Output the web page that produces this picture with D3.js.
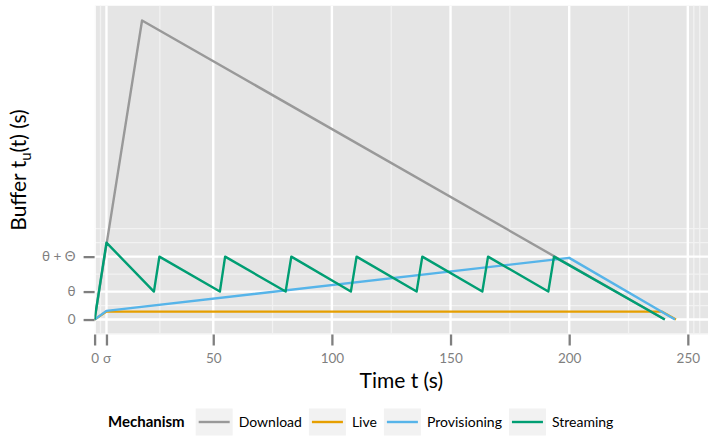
<!DOCTYPE html>
<html>
<head>
<meta charset="utf-8">
<script src="https://cdn.jsdelivr.net/npm/d3@7"></script>
<style>
  body { margin: 0; background: #fff; }
  svg { display: block; }
  text { font-family: Lato, "Noto Sans", sans-serif; }
</style>
</head>
<body>
<svg id="chart" width="708" height="437"></svg>
<script>
// Buffer level over time for each delivery mechanism
const mechanisms = ["Download", "Live", "Provisioning", "Streaming"];
const mechanismColors = ["#999999", "#E69F00", "#56B4E9", "#009E73"];

const sigma = 5;     // start-up delay
const theta = 20;    // low-water mark
const Theta = 25;    // refill amount

const downloadTime   = [0, 20, 240.3];
const downloadBuffer = [0, 213.9, 0];

const liveTime   = [0, 5, 239, 245];
const liveBuffer = [0, 5.7, 5.7, 0];

const provisioningTime   = [0, 5, 200, 244.6];
const provisioningBuffer = [0, 6.2, 44.1, 0];

const streamingTime   = [0, 5, 25, 27.3, 52.8, 55, 80.5, 82.9, 108, 110.4, 135.7, 138.1, 163.4, 165.8, 191.2, 193.6, 240.3];
const streamingBuffer = [0, 55, 20, 45, 20, 45, 20, 45, 20, 45, 20, 45, 20, 45, 20, 45, 0];

const xBreaks = [0, sigma, 50, 100, 150, 200, 250];
const xTickLabels = ["0", "σ", "50", "100", "150", "200", "250"];
const yBreaks = [0, theta, theta + Theta];
const yTickLabels = ["0", "θ", "θ + Θ"];

const seriesTimes = [downloadTime, liveTime, provisioningTime, streamingTime];
const seriesBuffers = [downloadBuffer, liveBuffer, provisioningBuffer, streamingBuffer];

const svg = d3.select("#chart");
const panel = { left: 94.6, right: 708, top: 5.5, bottom: 334.5 };

const x = d3.scaleLinear().domain([0, 258.5]).range([panel.left, panel.right]);
const yMax = d3.max(downloadBuffer);
const y = d3.scaleLinear().domain([-0.05 * yMax, 1.05 * yMax]).range([panel.bottom, panel.top]);

// minor breaks: halfway between majors, extended one step past the ends
function minorBreaks(b, domain) {
  const step = b[1] - b[0];
  let bb = b.slice();
  if (domain[0] < bb[0]) bb = [bb[0] - step, ...bb];
  if (domain[1] > bb[bb.length - 1]) bb = [...bb, bb[bb.length - 1] + step];
  const out = [];
  for (let i = 0; i < bb.length - 1; i++) out.push((bb[i] + bb[i + 1]) / 2);
  out.push(bb[bb.length - 1]);
  return out.filter(v => v >= domain[0] && v <= domain[1]);
}

svg.append("clipPath").attr("id", "panel-clip")
  .append("rect")
  .attr("x", panel.left).attr("y", panel.top)
  .attr("width", panel.right - panel.left).attr("height", panel.bottom - panel.top);

const g = svg.append("g").attr("clip-path", "url(#panel-clip)");
g.append("rect")
  .attr("x", panel.left).attr("y", panel.top)
  .attr("width", panel.right - panel.left).attr("height", panel.bottom - panel.top)
  .attr("fill", "#E5E5E5");

// minor grid
g.selectAll(".xminor").data(minorBreaks(xBreaks, x.domain())).join("line")
  .attr("x1", d => x(d)).attr("x2", d => x(d))
  .attr("y1", panel.top).attr("y2", panel.bottom)
  .attr("stroke", "#F2F2F2").attr("stroke-width", 1.3);
g.selectAll(".yminor").data(minorBreaks(yBreaks, y.domain())).join("line")
  .attr("y1", d => y(d)).attr("y2", d => y(d))
  .attr("x1", panel.left).attr("x2", panel.right)
  .attr("stroke", "#F2F2F2").attr("stroke-width", 1.3);

// major grid
g.selectAll(".xmajor").data(xBreaks).join("line")
  .attr("x1", d => x(d)).attr("x2", d => x(d))
  .attr("y1", panel.top).attr("y2", panel.bottom)
  .attr("stroke", "#FFFFFF").attr("stroke-width", 2.4);
g.selectAll(".ymajor").data(yBreaks).join("line")
  .attr("y1", d => y(d)).attr("y2", d => y(d))
  .attr("x1", panel.left).attr("x2", panel.right)
  .attr("stroke", "#FFFFFF").attr("stroke-width", 2.4);

// series lines
const line = d3.line().x(d => x(d[0])).y(d => y(d[1]));
mechanisms.forEach((m, i) => {
  const pts = seriesTimes[i].map((t, k) => [t, seriesBuffers[i][k]]);
  g.append("path")
    .attr("d", line(pts))
    .attr("fill", "none")
    .attr("stroke", mechanismColors[i])
    .attr("stroke-width", 2.4)
    .attr("stroke-linejoin", "round");
});

// axes
const tickColor = "#7F7F7F";
const xAxis = svg.append("g").attr("transform", `translate(0,${panel.bottom})`)
  .call(d3.axisBottom(x).tickValues(xBreaks).tickFormat((d, i) => xTickLabels[i])
    .tickSize(11).tickPadding(8));
const yAxis = svg.append("g").attr("transform", `translate(${panel.left},0)`)
  .call(d3.axisLeft(y).tickValues(yBreaks).tickFormat((d, i) => yTickLabels[i])
    .tickSize(11).tickPadding(8));
[xAxis, yAxis].forEach(a => {
  a.select(".domain").remove();
  a.selectAll(".tick line").attr("stroke", tickColor).attr("stroke-width", 2.3);
  a.selectAll(".tick text").attr("fill", tickColor).attr("font-size", 13.5)
    .attr("font-family", "Lato, sans-serif");
});

// axis titles
svg.append("text")
  .attr("x", (panel.left + panel.right) / 2).attr("y", 388)
  .attr("text-anchor", "middle").attr("font-size", 21).attr("fill", "#000")
  .text("Time t (s)");

const yTitle = svg.append("text")
  .attr("transform", `translate(26,${(panel.top + panel.bottom) / 2}) rotate(-90)`)
  .attr("text-anchor", "middle").attr("font-size", 21).attr("fill", "#000");
yTitle.append("tspan").text("Buffer t");
yTitle.append("tspan").attr("font-size", 15).attr("dy", 5).text("u");
yTitle.append("tspan").attr("dy", -5).text("(t) (s)");

// legend
const legend = svg.append("g").attr("transform", "translate(108,0)");
const legendY = 422;
const title = legend.append("text")
  .attr("x", 0).attr("y", legendY).attr("dy", "0.35em")
  .attr("font-size", 15).attr("font-weight", "bold").attr("fill", "#000")
  .text("Mechanism");
let cursor = title.node().getComputedTextLength() + 11;
mechanisms.forEach((m, i) => {
  legend.append("rect")
    .attr("x", cursor).attr("y", legendY - 13.5)
    .attr("width", 37).attr("height", 27)
    .attr("fill", "#F2F2F2");
  legend.append("line")
    .attr("x1", cursor + 3).attr("x2", cursor + 34)
    .attr("y1", legendY).attr("y2", legendY)
    .attr("stroke", mechanismColors[i]).attr("stroke-width", 2.4);
  cursor += 37 + 6;
  const t = legend.append("text")
    .attr("x", cursor).attr("y", legendY).attr("dy", "0.35em")
    .attr("font-size", 14).attr("fill", "#000")
    .text(m);
  cursor += t.node().getComputedTextLength() + 7;
});
</script>
</body>
</html>
